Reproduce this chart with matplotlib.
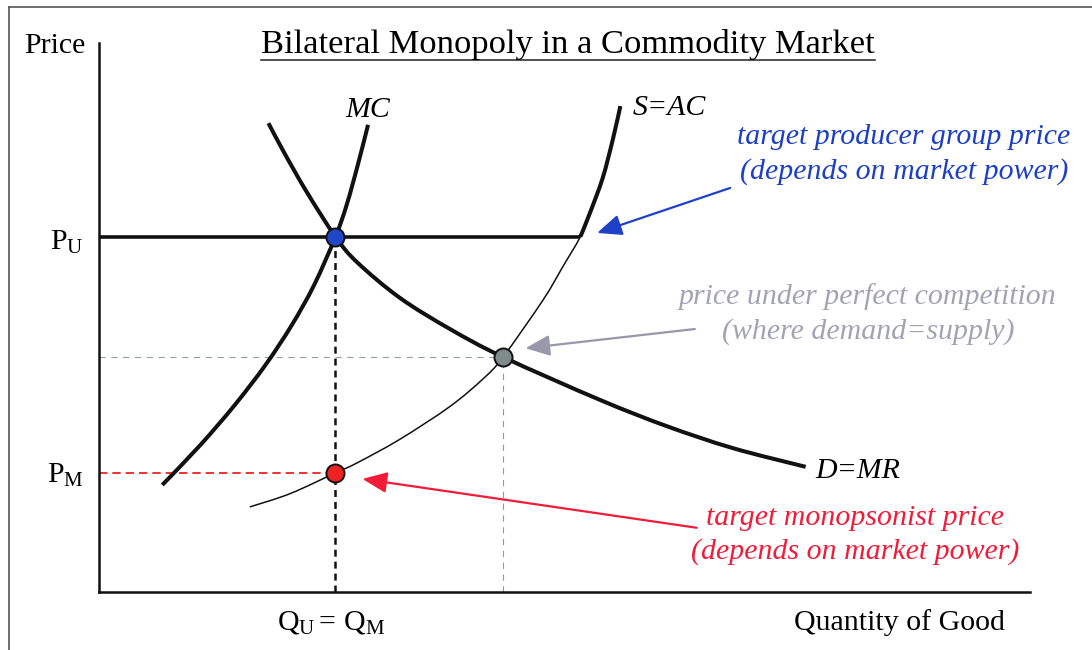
import matplotlib
matplotlib.use("Agg")
import matplotlib.pyplot as plt
from matplotlib.lines import Line2D
from matplotlib.path import Path
from matplotlib.patches import PathPatch

plt.rcParams['font.family'] = ['Liberation Serif', 'DejaVu Serif']
plt.rcParams['mathtext.fontset'] = 'custom'
plt.rcParams['mathtext.rm'] = 'Liberation Serif'
plt.rcParams['mathtext.it'] = 'Liberation Serif:italic'
plt.rcParams['lines.scale_dashes'] = False

# ---------------- data (quantity / price units, axes 0..100) ----------------
mc_q = [6.8, 10.9, 14.6, 17.9, 20.7, 23.1, 25.4, 26.6, 27.8, 28.9]
mc_p = [19.5, 26.8, 34.1, 41.4, 48.6, 55.9, 64.7, 70.5, 77.8, 85.1]

d_q = [18.2, 19.8, 22.3, 25.4, 27.7, 32.3, 37.7, 43.4, 53.8, 61.0, 68.1, 75.9]
d_p = [85.4, 80.3, 72.9, 64.7, 60.1, 53.6, 47.9, 42.8, 35.0, 30.2, 26.2, 22.8]

s_q = [16.2, 20.5, 25.4, 27.7, 32.3, 37.7, 41.3, 43.4, 47.7, 49.8, 51.7, 52.7, 54.1, 55.2, 56.0]
s_p = [15.5, 17.9, 21.7, 23.5, 27.8, 33.8, 38.9, 42.8, 53.2, 59.2, 64.7, 68.9, 75.4, 82.5, 88.5]

Q_U = 25.4      # Q_U = Q_M
P_U = 64.7      # target producer group price
P_M = 21.7      # target monopsonist price
Q_C = 43.4      # perfect competition quantity
P_C = 42.8      # perfect competition price
PU_END_Q = 51.7  # where the P_U line meets S=AC

title = "Bilateral Monopoly in a Commodity Market"
blue_lines = ["target producer group price", "(depends on market power)"]
gray_lines = ["price under perfect competition", "(where demand=supply)"]
red_lines = ["target monopsonist price", "(depends on market power)"]

# arrows: (tail, tip) in data units
blue_arrow = ((67.8, 73.6), (53.5, 65.4))
gray_arrow = ((64.0, 47.9), (45.8, 44.4))
red_arrow = ((64.2, 11.7), (28.3, 20.6))

# ---------------- figure ----------------
W, H = 1092, 650
fig = plt.figure(figsize=(W / 100, H / 100), dpi=100)
fig.patch.set_facecolor('white')


def fx(px):
    return px / W


def fy(py):
    return 1 - py / H


def smooth_curve(ax, xs, ys, **kw):
    """Draw a smooth (Catmull-Rom -> cubic Bezier) path through the read points."""
    pts = list(zip(xs, ys))
    n = len(pts)
    verts = [pts[0]]
    codes = [Path.MOVETO]
    for i in range(n - 1):
        p0 = pts[i - 1] if i > 0 else pts[i]
        p1 = pts[i]
        p2 = pts[i + 1]
        p3 = pts[i + 2] if i + 2 < n else pts[i + 1]
        c1 = (p1[0] + (p2[0] - p0[0]) / 6, p1[1] + (p2[1] - p0[1]) / 6)
        c2 = (p2[0] - (p3[0] - p1[0]) / 6, p2[1] - (p3[1] - p1[1]) / 6)
        verts += [c1, c2, p2]
        codes += [Path.CURVE4] * 3
    patch = PathPatch(Path(verts, codes), fill=False, **kw)
    ax.add_patch(patch)
    return patch


ax = fig.add_axes([fx(99), fy(592), (1030 - 99) / W, (592 - 43) / H])
ax.set_xlim(0, 100)
ax.set_ylim(0, 100)
ax.set_xticks([])
ax.set_yticks([])
for side in ['top', 'right']:
    ax.spines[side].set_visible(False)
for side in ['left', 'bottom']:
    ax.spines[side].set_linewidth(1.8)
    ax.spines[side].set_color('#111111')
ax.patch.set_alpha(0)

BLUE = '#1c3fc4'
GRAY = '#a3a3b3'
RED = '#f01c3a'

# dashed guides
ax.plot([Q_U, Q_U], [0, P_U], color='#111111', lw=1.8, dashes=(5, 3.6), zorder=2)
ax.plot([0, Q_U], [P_M, P_M], color='#f03030', lw=1.4, dashes=(6, 3.6), zorder=2)
ax.plot([0, Q_C], [P_C, P_C], color='#8ea0a4', lw=0.8, dashes=(4.5, 4), zorder=2)
ax.plot([Q_C, Q_C], [0, P_C], color='#9494ac', lw=0.8, dashes=(4.5, 4), zorder=2)

# P_U horizontal
ax.plot([0, PU_END_Q], [P_U, P_U], color='#111111', lw=2.6, zorder=3, solid_capstyle='butt')

# curves
smooth_curve(ax, mc_q, mc_p, edgecolor='#111111', lw=2.9, zorder=3, capstyle='butt')
smooth_curve(ax, d_q, d_p, edgecolor='#111111', lw=2.9, zorder=3, capstyle='butt')
smooth_curve(ax, s_q, s_p, edgecolor='#111111', lw=1.1, zorder=3)
s_thick_q = [q for q, p in zip(s_q, s_p) if p >= P_U]
s_thick_p = [p for p in s_p if p >= P_U]
smooth_curve(ax, s_thick_q, s_thick_p, edgecolor='#111111', lw=2.9, zorder=3, capstyle='butt')

# points
ax.plot([Q_U], [P_U], 'o', ms=13, mfc='#1f47c8', mec='#111111', mew=1.4, zorder=6)
ax.plot([Q_C], [P_C], 'o', ms=13, mfc='#7f8a8a', mec='#111111', mew=1.4, zorder=6)
ax.plot([Q_U], [P_M], 'o', ms=13, mfc='#ee2222', mec='#111111', mew=1.4, zorder=6)

# arrows
for (tail, tip), col, lw in [(blue_arrow, '#2040c8', 1.6), (gray_arrow, '#9898aa', 1.6),
                             (red_arrow, '#f21c3a', 1.6)]:
    ax.annotate('', xy=tip, xytext=tail,
                arrowprops=dict(arrowstyle='-|>,head_length=0.75,head_width=0.32',
                                mutation_scale=20, color=col, lw=lw,
                                shrinkA=0, shrinkB=0), zorder=5)

# texts
FS = 21.5
fig.text(fx(54.5), fy(53), "Price", fontsize=FS, ha='center', va='baseline')
fig.text(fx(84), fy(250), r'$\mathrm{P}_{\mathrm{U}}$', fontsize=FS, ha='right', va='baseline')
fig.text(fx(84), fy(483), r'$\mathrm{P}_{\mathrm{M}}$', fontsize=FS, ha='right', va='baseline')
fig.text(fx(331), fy(630), r'$\mathrm{Q}_{\mathrm{U}}{=}\,\mathrm{Q}_{\mathrm{M}}$', fontsize=FS,
         ha='center', va='baseline')
fig.text(fx(899), fy(630), "Quantity of Good", fontsize=FS, ha='center', va='baseline')

fig.text(fx(368), fy(110), "MC", fontsize=FS, style='italic', ha='center', va='center')
fig.text(fx(633), fy(108), "S=AC", fontsize=FS, style='italic', ha='left', va='center')
fig.text(fx(858), fy(471), "D=MR", fontsize=FS, style='italic', ha='center', va='center')

for line, yy in zip(blue_lines, [137, 172]):
    fig.text(fx(904), fy(yy), line, fontsize=FS, style='italic', color=BLUE, ha='center', va='center')
for line, yy in zip(gray_lines, [297, 332]):
    fig.text(fx(868), fy(yy), line, fontsize=FS, style='italic', color=GRAY, ha='center', va='center')
for line, yy in zip(red_lines, [518, 552]):
    fig.text(fx(855), fy(yy), line, fontsize=FS, style='italic', color=RED, ha='center', va='center')

t = fig.text(fx(568), fy(53), title, fontsize=24.8, ha='center', va='baseline')
fig.canvas.draw()
bb = t.get_window_extent()
fig.add_artist(Line2D([bb.x0 / W, bb.x1 / W], [fy(59.5), fy(59.5)], transform=fig.transFigure,
                      color='#222222', lw=1.1))

# outer frame (top + left)
fig.add_artist(Line2D([fx(9), fx(9)], [fy(7), 0], transform=fig.transFigure, color='#555555', lw=1.2))
fig.add_artist(Line2D([fx(9), 1], [fy(7), fy(7)], transform=fig.transFigure, color='#555555', lw=1.2))

fig.savefig("out.png", dpi=100, facecolor='white')
